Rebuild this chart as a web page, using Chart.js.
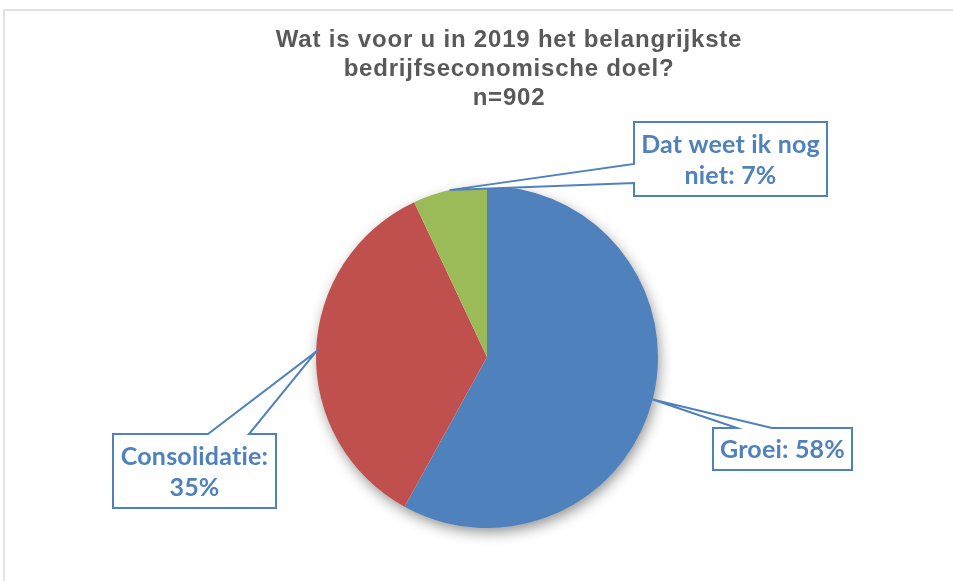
<!DOCTYPE html>
<html>
<head>
<meta charset="utf-8">
<script src="https://cdn.jsdelivr.net/npm/chart.js@4"></script>
<style>
  html, body { margin: 0; padding: 0; background: #fff; }
  canvas { display: block; }
</style>
</head>
<body>
<canvas id="pie" width="953" height="581"></canvas>
<script>
var categories = ['Groei', 'Consolidatie', 'Dat weet ik nog niet'];
var percentages = [58, 35, 7];
var sliceColors = ['#4F81BD', '#C0504D', '#9BBB59'];
var titleLines = ['Wat is voor u in 2019 het belangrijkste', 'bedrijfseconomische doel?', 'n=902'];

// callout boxes (x, y, w, h) and where the pointer leaves the box
var callouts = [
  { x: 713, y: 428, w: 139, h: 42, side: 'top', a: 737, b: 772 },
  { x: 113, y: 434, w: 163, h: 74, side: 'top', a: 208, b: 249 },
  { x: 634, y: 122, w: 193, h: 74, side: 'left', a: 164, b: 183 }
];

function wrapText(ctx, text, maxW) {
  var words = text.split(' '), lines = [], cur = '';
  words.forEach(function(w) {
    var test = cur ? cur + ' ' + w : w;
    if (cur && ctx.measureText(test).width > maxW) {
      lines.push(cur);
      cur = w;
    } else {
      cur = test;
    }
  });
  if (cur) lines.push(cur);
  return lines;
}

const frame = {
  id: 'frame',
  beforeDraw(chart) {
    const ctx = chart.ctx;
    ctx.save();
    ctx.strokeStyle = '#D9D9D9';
    ctx.lineWidth = 1.5;
    ctx.strokeRect(4, 10, chart.width + 10, chart.height + 10);
    ctx.restore();
  }
};

const pieShadow = {
  id: 'pieShadow',
  beforeDatasetsDraw(chart) {
    const arc = chart.getDatasetMeta(0).data[0];
    const ctx = chart.ctx;
    ctx.save();
    ctx.shadowColor = 'rgba(0,0,0,0.45)';
    ctx.shadowBlur = 14;
    ctx.shadowOffsetX = 2;
    ctx.shadowOffsetY = 5;
    ctx.fillStyle = '#ffffff';
    ctx.beginPath();
    ctx.arc(arc.x, arc.y, arc.outerRadius - 1, 0, Math.PI * 2);
    ctx.fill();
    ctx.restore();
  }
};

const titleAndCallouts = {
  id: 'titleAndCallouts',
  afterDraw(chart) {
    const ctx = chart.ctx;
    ctx.save();
    // title
    ctx.fillStyle = '#595959';
    ctx.font = 'bold 24px "Liberation Sans", Arial, sans-serif';
    ctx.letterSpacing = '0.8px';
    ctx.textAlign = 'center';
    ctx.textBaseline = 'alphabetic';
    titleLines.forEach(function(t, i) {
      ctx.fillText(t, 509, 47 + i * 29);
    });

    // callouts
    const arcs = chart.getDatasetMeta(0).data;
    arcs.forEach(function(arc, i) {
      const c = callouts[i];
      const mid = (arc.startAngle + arc.endAngle) / 2;
      const tx = arc.x + Math.cos(mid) * arc.outerRadius;
      const ty = arc.y + Math.sin(mid) * arc.outerRadius;

      ctx.beginPath();
      if (c.side === 'top') {
        ctx.moveTo(c.x, c.y);
        ctx.lineTo(c.a, c.y);
        ctx.lineTo(tx, ty);
        ctx.lineTo(c.b, c.y);
        ctx.lineTo(c.x + c.w, c.y);
        ctx.lineTo(c.x + c.w, c.y + c.h);
        ctx.lineTo(c.x, c.y + c.h);
        ctx.closePath();
      } else {
        ctx.moveTo(c.x, c.y);
        ctx.lineTo(c.x + c.w, c.y);
        ctx.lineTo(c.x + c.w, c.y + c.h);
        ctx.lineTo(c.x, c.y + c.h);
        ctx.lineTo(c.x, c.b);
        ctx.lineTo(tx, ty);
        ctx.lineTo(c.x, c.a);
        ctx.closePath();
      }
      ctx.fillStyle = '#ffffff';
      ctx.fill();
      ctx.strokeStyle = '#4F81BD';
      ctx.lineWidth = 2;
      ctx.lineJoin = 'miter';
      ctx.stroke();

      ctx.fillStyle = '#4F81BD';
      ctx.font = 'bold 25px Lato, "Open Sans", sans-serif';
      ctx.letterSpacing = '0.2px'; // also keeps Lato from joining "ti"
      ctx.textAlign = 'center';
      ctx.textBaseline = 'middle';
      const text = categories[i] + ': ' + percentages[i] + '%';
      const lines = wrapText(ctx, text, c.w - 6);
      const lh = 31;
      const y0 = c.y + c.h / 2 + 1 - (lines.length - 1) * lh / 2;
      lines.forEach(function(l, k) {
        ctx.fillText(l, c.x + c.w / 2, y0 + k * lh);
      });
    });
    ctx.restore();
  }
};

new Chart(document.getElementById('pie').getContext('2d'), {
  type: 'pie',
  data: {
    labels: categories,
    datasets: [{
      data: percentages,
      backgroundColor: sliceColors,
      borderWidth: 0
    }]
  },
  options: {
    responsive: false,
    animation: false,
    layout: {
      padding: { top: 186, bottom: 53, left: 100, right: 79 }
    },
    plugins: {
      legend: { display: false },
      title: { display: false },
      tooltip: { enabled: false }
    }
  },
  plugins: [frame, pieShadow, titleAndCallouts]
});
</script>
</body>
</html>
